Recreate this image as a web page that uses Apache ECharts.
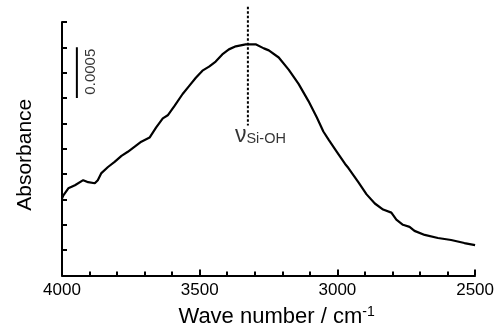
<!DOCTYPE html>
<html>
<head>
<meta charset="utf-8">
<script src="https://cdn.jsdelivr.net/npm/echarts@6/dist/echarts.min.js"></script>
<style>
  html, body { margin: 0; padding: 0; background: #fff; }
  #chart { width: 497px; height: 333px; }
</style>
</head>
<body>
<div id="chart"></div>
<script>
// IR spectrum
const wavenumbers = [
  4000, 3995, 3977, 3953, 3923, 3905, 3881, 3870, 3857, 3833, 3809, 3784, 3761, 3736,
  3712, 3682, 3658, 3634, 3616, 3592, 3562, 3538, 3514, 3490, 3466, 3442, 3418, 3394,
  3369, 3333, 3297, 3267, 3249, 3213, 3177, 3141, 3105, 3075, 3051, 3032, 3002, 2972,
  2960, 2924, 2894, 2864, 2834, 2804, 2786, 2762, 2738, 2720, 2683, 2635, 2587, 2539, 2500
]
const absorbance = [
  0.00076, 0.00079, 0.00086, 0.00089, 0.00094, 0.00092, 0.00091, 0.00094, 0.00101, 0.00107,
  0.00112, 0.00118, 0.00122, 0.00127, 0.00132, 0.00136, 0.00146, 0.00155, 0.00158, 0.00167,
  0.00179, 0.00187, 0.00195, 0.00202, 0.00206, 0.00211, 0.00218, 0.00223, 0.00226, 0.00228,
  0.00228, 0.00224, 0.00222, 0.00215, 0.00203, 0.00189, 0.00172, 0.00156, 0.00142, 0.00134,
  0.00122, 0.00110, 0.00106, 0.00092, 0.00080, 0.00071, 0.00065, 0.00062, 0.00055, 0.00050,
  0.00048, 0.00044, 0.00040, 0.00037, 0.00035, 0.00032, 0.00030
]
const xTickLabels = ["4000", "3500", "3000", "2500"]

// peak marker (dashed) and 0.0005 scale bar
const peakX = [3325, 3325]
const peakY = [0.00265, 0.00148]
const barX = [3946, 3946]
const barY = [0.00175, 0.00225]
const peakLabel = { x: 3372, y: 0.00127, main: "ν", sub: "Si-OH" }
const barLabel = { x: 3895, y: 0.00201, text: "0.0005" }

const chart = echarts.init(document.getElementById("chart"))
const font = "Liberation Sans, Arial, sans-serif"

const option = {
  backgroundColor: "#fff",
  animation: false,
  grid: { left: 62, right: 19.5, top: 22, bottom: 55 },
  xAxis: {
    type: "value",
    inverse: true,
    min: 2500,
    max: 4000,
    interval: 500,
    name: "Wave number / cm{sup|-1}",
    nameLocation: "middle",
    nameGap: 30,
    nameTextStyle: {
      color: "#000",
      fontFamily: font,
      fontSize: 22,
      padding: [0, 0, 0, 16],
      rich: {
        sup: { fontSize: 14, fontFamily: font, color: "#000", verticalAlign: "top", padding: [0, 0, 9, 0] },
      },
    },
    axisLine: { lineStyle: { color: "#000", width: 2 } },
    axisTick: { show: true, inside: true, length: 6, lineStyle: { color: "#000", width: 2 } },
    minorTick: { show: true, splitNumber: 5, length: 4, lineStyle: { color: "#000", width: 2 } },
    axisLabel: {
      color: "#000",
      fontFamily: font,
      fontSize: 17,
      margin: 6,
      formatter: (v) => xTickLabels.find((t) => Number(t) === v) || "",
    },
    splitLine: { show: false },
  },
  yAxis: {
    type: "value",
    min: 0,
    max: 0.0025,
    interval: 0.00025,
    name: "Absorbance",
    nameLocation: "middle",
    nameGap: 26,
    nameTextStyle: { color: "#000", fontFamily: font, fontSize: 21, padding: [0, 12, 0, 0] },
    axisLine: { lineStyle: { color: "#000", width: 2 } },
    axisTick: { show: true, inside: true, length: 5, lineStyle: { color: "#000", width: 2 } },
    axisLabel: { show: false },
    splitLine: { show: false },
  },
  series: [
    {
      type: "line",
      data: wavenumbers.map((w, i) => [w, absorbance[i]]),
      showSymbol: false,
      lineStyle: { color: "#000", width: 2.2 },
    },
    {
      type: "line",
      data: peakX.map((w, i) => [w, peakY[i]]),
      showSymbol: false,
      clip: false,
      lineStyle: { color: "#000", width: 2, type: [2.5, 2] },
    },
    {
      type: "line",
      data: barX.map((w, i) => [w, barY[i]]),
      showSymbol: false,
      lineStyle: { color: "#000", width: 2 },
    },
    {
      type: "scatter",
      symbolSize: 0,
      data: [[peakLabel.x, peakLabel.y]],
      label: {
        show: true,
        position: "inside",
        align: "left",
        verticalAlign: "bottom",
        formatter: `{a|${peakLabel.main}}{b|${peakLabel.sub}}`,
        rich: {
          a: { fontSize: 23, fontFamily: font, color: "#000", verticalAlign: "bottom" },
          b: { fontSize: 14.5, fontFamily: font, color: "#000", verticalAlign: "bottom" },
        },
      },
    },
    {
      type: "scatter",
      symbolSize: 0,
      data: [[barLabel.x, barLabel.y]],
      label: {
        show: true,
        position: "inside",
        rotate: 90,
        formatter: barLabel.text,
        color: "#000",
        fontFamily: font,
        fontSize: 15,
      },
    },
  ],
}

chart.setOption(option)
</script>
</body>
</html>
